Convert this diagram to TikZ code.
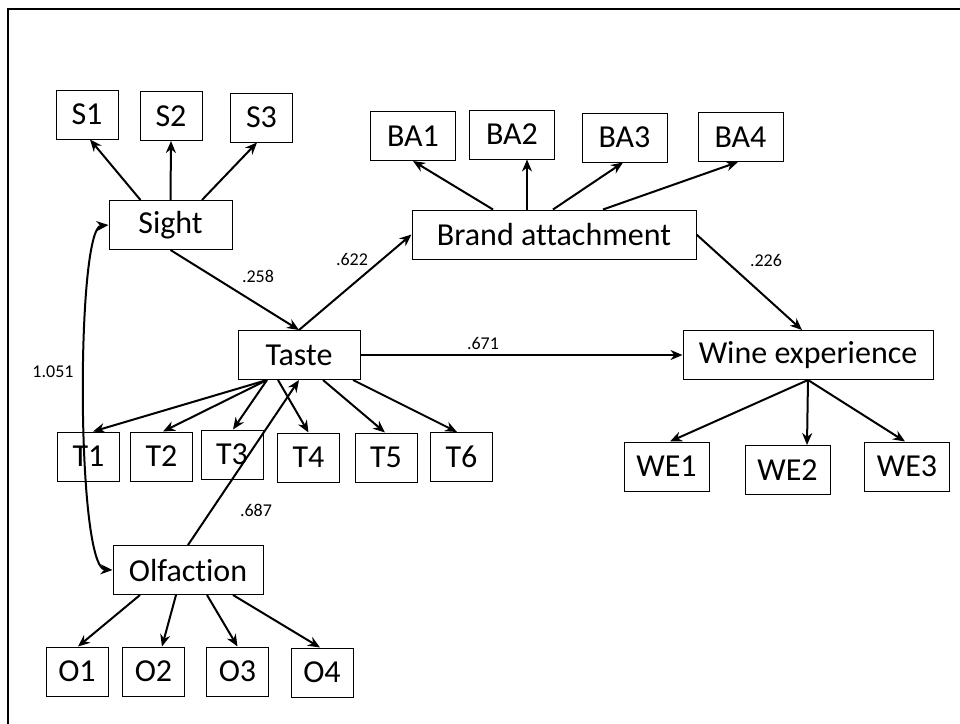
\documentclass[tikz,border=0pt]{standalone}
\usepackage{fontspec}
\setmainfont[Ligatures=NoCommon]{Carlito}
\usetikzlibrary{arrows.meta}

\tikzset{
  box/.style={draw, line width=0.5pt, inner sep=0pt, minimum height=24.5pt,
    font=\fontsize{16}{18}\selectfont},
  ind/.style={box, minimum width=31pt},
  wide/.style={box, minimum width=42.5pt},
  path/.style={line width=1pt, -{Stealth[length=6pt,width=5pt]}},
  coef/.style={font=\fontsize{9}{11}\selectfont}
}

\begin{document}
\begin{tikzpicture}[x=0.5pt, y=-0.5pt]
  \useasboundingbox (0,0) rectangle (960,724);
  % frame
  \draw[line width=0.9pt] (960,9) -- (8,9) -- (8,724);

  % latent variables
  \node[box, minimum width=61.5pt] (sight) at (170.5,225) {Sight};
  \node[box, minimum width=61pt] (taste) at (299,355) {Taste};
  \node[box, minimum width=75pt] (olf) at (188,570) {Olfaction};
  \node[box, minimum width=142pt] (brand) at (554,234.5) {Brand attachment};
  \node[box, minimum width=125pt] (wine) at (808,355) {Wine experience};

  % indicators
  \foreach \txt/\x/\y in {S1/87/114.5, S2/171/116, S3/261.5/117.5,
      T1/88.5/456.5, T2/161.5/456.5, T3/232/454.5, T4/308.5/457.5,
      T5/386/457.5, T6/461.5/457,
      O1/77/671.5, O2/153.5/671.5, O3/237.5/671.5, O4/322/672.5}
    \node[ind] (\txt) at (\x,\y) {\txt};
  \foreach \txt/\x/\y in {BA1/413/136, BA2/512/134.5, BA3/624.5/137.5,
      BA4/740.5/137, WE1/666.5/466.5, WE2/787.5/470, WE3/907/466.5}
    \node[wide] (\txt) at (\x,\y) {\txt};

  % loadings, upwards
  \foreach \from/\sx/\to/\tx in {sight/-15/S1/1.5, sight/0/S2/0,
      sight/15.75/S3/-2.25, brand/-30.5/BA1/0, brand/-13.5/BA2/7.5,
      brand/-0.5/BA3/-0.75, brand/24.5/BA4/-1.25}
    \draw[path] ([xshift=\sx pt]\from.north) -- ([xshift=\tx pt]\to.south);
  % loadings, downwards
  \foreach \from/\sx/\to/\tx in {taste/-16/T1/2.25, taste/-16/T2/0.75,
      taste/-16/T3/0.5, taste/-10.5/T4/0, taste/12/T5/-0.5, taste/27/T6/-2.25,
      olf/-24/O1/0.5, olf/-6/O2/4.25, olf/9.5/O3/0, olf/22.5/O4/-1,
      wine/0/WE1/1.75, wine/0/WE2/9.75, wine/0/WE3/-1}
    \draw[path] ([xshift=\sx pt]\from.south) -- ([xshift=\tx pt]\to.north);

  % structural paths
  \draw[path] (sight.south) -- (taste.north);
  \draw[path] (olf.north) -- (taste.south);
  \draw[path] (taste.north) -- (brand.west);
  \draw[path] (taste.east) -- (wine.west);
  \draw[path] (brand.east) -- ([xshift=-3pt]wine.north);
  \draw[line width=1pt, {Stealth[length=6pt,width=5pt]}-{Stealth[length=6pt,width=5pt]}]
    (sight.west) .. controls (76,228) and (76,568) .. (olf.west);

  % coefficients
  \node[coef] (c258) at (258,276) {.258};
  \node[coef] (c622) at (352,259) {.622};
  \node[coef] (c671) at (483,343) {.671};
  \node[coef] (c226) at (766,260) {.226};
  \node[coef] (c1051) at (53,372) {1.051};
  \node[coef] (c687) at (256,510) {.687};
\end{tikzpicture}
\end{document}
